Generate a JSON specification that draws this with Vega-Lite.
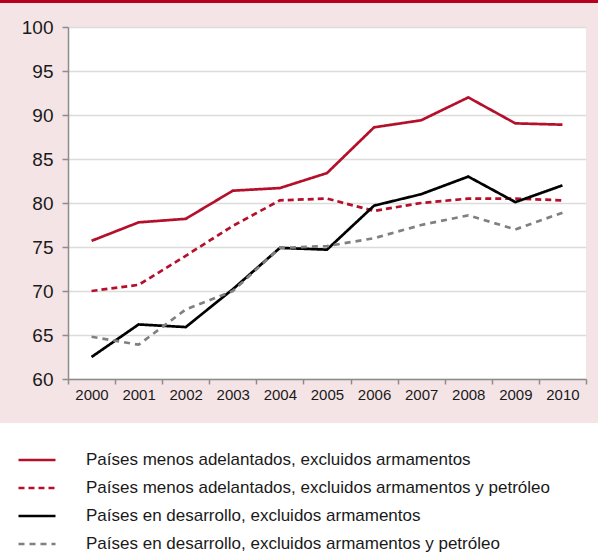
{
  "$schema": "https://vega.github.io/schema/vega-lite/v6.json",
  "width": 518,
  "height": 352,
  "autosize": {"type": "none"},
  "padding": {"left": 68, "top": 27, "right": 12, "bottom": 174},
  "background": "#f5e4e6",
  "config": {"view": {"stroke": null, "fill": "#ffffff"}, "font": "Liberation Sans"},
  "datasets": {
    "series": [
      {"year": 2000, "serie": "Países menos adelantados, excluidos armamentos", "value": 75.7},
      {"year": 2001, "serie": "Países menos adelantados, excluidos armamentos", "value": 77.8},
      {"year": 2002, "serie": "Países menos adelantados, excluidos armamentos", "value": 78.2},
      {"year": 2003, "serie": "Países menos adelantados, excluidos armamentos", "value": 81.4},
      {"year": 2004, "serie": "Países menos adelantados, excluidos armamentos", "value": 81.7},
      {"year": 2005, "serie": "Países menos adelantados, excluidos armamentos", "value": 83.4},
      {"year": 2006, "serie": "Países menos adelantados, excluidos armamentos", "value": 88.6},
      {"year": 2007, "serie": "Países menos adelantados, excluidos armamentos", "value": 89.4},
      {"year": 2008, "serie": "Países menos adelantados, excluidos armamentos", "value": 92.0},
      {"year": 2009, "serie": "Países menos adelantados, excluidos armamentos", "value": 89.05},
      {"year": 2010, "serie": "Países menos adelantados, excluidos armamentos", "value": 88.9},
      {"year": 2000, "serie": "Países menos adelantados, excluidos armamentos y petróleo", "value": 70.0},
      {"year": 2001, "serie": "Países menos adelantados, excluidos armamentos y petróleo", "value": 70.7},
      {"year": 2002, "serie": "Países menos adelantados, excluidos armamentos y petróleo", "value": 74.0},
      {"year": 2003, "serie": "Países menos adelantados, excluidos armamentos y petróleo", "value": 77.4},
      {"year": 2004, "serie": "Países menos adelantados, excluidos armamentos y petróleo", "value": 80.3},
      {"year": 2005, "serie": "Países menos adelantados, excluidos armamentos y petróleo", "value": 80.5},
      {"year": 2006, "serie": "Países menos adelantados, excluidos armamentos y petróleo", "value": 79.1},
      {"year": 2007, "serie": "Países menos adelantados, excluidos armamentos y petróleo", "value": 80.0},
      {"year": 2008, "serie": "Países menos adelantados, excluidos armamentos y petróleo", "value": 80.5},
      {"year": 2009, "serie": "Países menos adelantados, excluidos armamentos y petróleo", "value": 80.5},
      {"year": 2010, "serie": "Países menos adelantados, excluidos armamentos y petróleo", "value": 80.3},
      {"year": 2000, "serie": "Países en desarrollo, excluidos armamentos", "value": 62.5},
      {"year": 2001, "serie": "Países en desarrollo, excluidos armamentos", "value": 66.2},
      {"year": 2002, "serie": "Países en desarrollo, excluidos armamentos", "value": 65.9},
      {"year": 2003, "serie": "Países en desarrollo, excluidos armamentos", "value": 70.2},
      {"year": 2004, "serie": "Países en desarrollo, excluidos armamentos", "value": 74.9},
      {"year": 2005, "serie": "Países en desarrollo, excluidos armamentos", "value": 74.7},
      {"year": 2006, "serie": "Países en desarrollo, excluidos armamentos", "value": 79.7},
      {"year": 2007, "serie": "Países en desarrollo, excluidos armamentos", "value": 81.0},
      {"year": 2008, "serie": "Países en desarrollo, excluidos armamentos", "value": 83.0},
      {"year": 2009, "serie": "Países en desarrollo, excluidos armamentos", "value": 80.1},
      {"year": 2010, "serie": "Países en desarrollo, excluidos armamentos", "value": 82.0},
      {"year": 2000, "serie": "Países en desarrollo, excluidos armamentos y petróleo", "value": 64.8},
      {"year": 2001, "serie": "Países en desarrollo, excluidos armamentos y petróleo", "value": 63.9},
      {"year": 2002, "serie": "Países en desarrollo, excluidos armamentos y petróleo", "value": 67.9},
      {"year": 2003, "serie": "Países en desarrollo, excluidos armamentos y petróleo", "value": 70.0},
      {"year": 2004, "serie": "Países en desarrollo, excluidos armamentos y petróleo", "value": 74.9},
      {"year": 2005, "serie": "Países en desarrollo, excluidos armamentos y petróleo", "value": 75.1},
      {"year": 2006, "serie": "Países en desarrollo, excluidos armamentos y petróleo", "value": 76.0},
      {"year": 2007, "serie": "Países en desarrollo, excluidos armamentos y petróleo", "value": 77.5},
      {"year": 2008, "serie": "Países en desarrollo, excluidos armamentos y petróleo", "value": 78.6},
      {"year": 2009, "serie": "Países en desarrollo, excluidos armamentos y petróleo", "value": 77.0},
      {"year": 2010, "serie": "Países en desarrollo, excluidos armamentos y petróleo", "value": 78.9}
    ],
    "one": [{}]
  },
  "layer": [
    {
      "data": {"name": "one"},
      "mark": {"type": "rect", "color": "#ffffff", "clip": false},
      "encoding": {
        "x": {"datum": 1998.056, "type": "quantitative", "scale": {"domain": [1999.5, 2010.5], "nice": false, "zero": false}},
        "x2": {"datum": 2010.7548},
        "y": {"datum": 55, "type": "quantitative", "scale": {"domain": [60, 100], "nice": false, "zero": false}},
        "y2": {"datum": 40.2273}
      }
    },
    {
      "data": {"name": "one"},
      "mark": {"type": "rect", "color": "#b5001e", "clip": false},
      "encoding": {
        "x": {"datum": 1998.056, "type": "quantitative", "scale": {"domain": [1999.5, 2010.5], "nice": false, "zero": false}},
        "x2": {"datum": 2010.7548},
        "y": {"datum": 103.0682, "type": "quantitative", "scale": {"domain": [60, 100], "nice": false, "zero": false}},
        "y2": {"datum": 102.7273}
      }
    },
    {
      "data": {"name": "series"},
      "mark": {"type": "line", "strokeWidth": 2.7},
      "encoding": {
        "x": {
          "field": "year", "type": "quantitative",
          "scale": {"domain": [1999.5, 2010.5], "nice": false, "zero": false},
          "axis": {
            "values": [1999.5, 2000.5, 2001.5, 2002.5, 2003.5, 2004.5, 2005.5, 2006.5, 2007.5, 2008.5, 2009.5, 2010.5],
            "labelExpr": "datum.value > 2010 ? '' : format(datum.value + 0.5, 'd')",
            "labelOffset": 23.5,
            "domain": true, "domainColor": "#8c8c8c", "domainWidth": 1.5,
            "grid": false,
            "title": null,
            "tickSize": 5, "tickColor": "#8c8c8c", "tickWidth": 1.5,
            "labelFont": "Liberation Sans", "labelFontSize": 15, "labelColor": "#1a1a1a",
            "labelPadding": 3, "labelFlush": false, "labelOverlap": false
          }
        },
        "y": {
          "field": "value", "type": "quantitative",
          "scale": {"domain": [60, 100], "nice": false, "zero": false},
          "axis": {
            "values": [60, 65, 70, 75, 80, 85, 90, 95, 100],
            "domain": true, "domainColor": "#8c8c8c", "domainWidth": 1.5,
            "grid": true, "gridColor": "#dcdcdc", "gridWidth": 1.5,
            "title": null,
            "tickSize": 6, "tickColor": "#8c8c8c", "tickWidth": 1.5,
            "labelFont": "Liberation Sans", "labelFontSize": 19, "labelColor": "#1a1a1a",
            "labelPadding": 9, "labelFlush": false, "labelOverlap": false
          }
        },
        "color": {
          "field": "serie", "type": "nominal",
          "scale": {
            "domain": ["Países menos adelantados, excluidos armamentos", "Países menos adelantados, excluidos armamentos y petróleo", "Países en desarrollo, excluidos armamentos", "Países en desarrollo, excluidos armamentos y petróleo"],
            "range": ["#b5102b", "#b5102b", "#000000", "#808080"]
          },
          "legend": {
            "orient": "none", "legendX": -51, "legendY": 413, "title": null, "padding": 0,
            "symbolType": "stroke", "symbolSize": 1369, "symbolStrokeWidth": 2.7,
            "labelFont": "Liberation Sans", "labelFontSize": 17, "labelColor": "#1a1a1a",
            "labelOffset": 29, "rowPadding": -9.8, "labelLimit": 700, "zindex": 2
          }
        },
        "strokeDash": {
          "field": "serie", "type": "nominal",
          "scale": {
            "domain": ["Países menos adelantados, excluidos armamentos", "Países menos adelantados, excluidos armamentos y petróleo", "Países en desarrollo, excluidos armamentos", "Países en desarrollo, excluidos armamentos y petróleo"],
            "range": [[1, 0], [6, 4], [1, 0], [6, 5]]
          },
          "legend": {
            "orient": "none", "legendX": -51, "legendY": 413, "title": null, "padding": 0,
            "symbolType": "stroke", "symbolSize": 1369, "symbolStrokeWidth": 2.7,
            "labelFont": "Liberation Sans", "labelFontSize": 17, "labelColor": "#1a1a1a",
            "labelOffset": 29, "rowPadding": -9.8, "labelLimit": 700, "zindex": 2
          }
        }
      }
    }
  ]
}
